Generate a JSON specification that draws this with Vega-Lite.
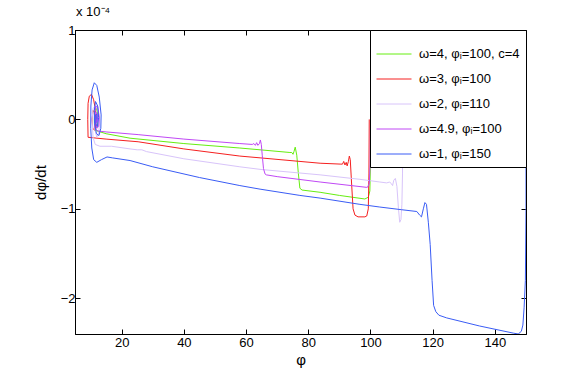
{
  "$schema": "https://vega.github.io/schema/vega-lite/v6.json",
  "width": 451,
  "height": 304,
  "autosize": {"type": "none"},
  "padding": {"left": 75, "top": 30, "right": 55, "bottom": 42},
  "background": "white",
  "config": {
    "view": {"stroke": "black", "strokeWidth": 1},
    "font": "Liberation Sans",
    "axis": {"domainColor": "black", "tickColor": "black", "labelColor": "black", "titleColor": "black", "grid": false, "labelFont": "Liberation Sans", "titleFont": "Liberation Sans", "labelFontSize": 13, "titleFontSize": 15, "titleFontWeight": "normal", "tickSize": -5, "domainWidth": 1, "tickWidth": 1}
  },
  "title": {"text": "x 10⁻⁴", "anchor": "start", "frame": "group", "offset": 5, "fontSize": 13, "fontWeight": "normal", "font": "Liberation Sans", "color": "black", "dx": 1},
  "data": {"values": [
    {"s":"G","k":1,"x":100,"y":0},{"s":"G","k":2,"x":100,"y":-0.5},{"s":"G","k":3,"x":99.8,"y":-0.8},{"s":"G","k":4,"x":99.3,"y":-0.87},{"s":"G","k":5,"x":98.2,"y":-0.89},{"s":"G","k":6,"x":90,"y":-0.85},{"s":"G","k":7,"x":83.8,"y":-0.815},{"s":"G","k":8,"x":78,"y":-0.79},{"s":"G","k":9,"x":77.3,"y":-0.77},{"s":"G","k":10,"x":76.8,"y":-0.6},{"s":"G","k":11,"x":76.3,"y":-0.4},{"s":"G","k":12,"x":75.8,"y":-0.31},{"s":"G","k":13,"x":75.4,"y":-0.36},{"s":"G","k":14,"x":75.1,"y":-0.39},{"s":"G","k":15,"x":74.7,"y":-0.37},{"s":"G","k":16,"x":74.1,"y":-0.37},{"s":"G","k":17,"x":64.5,"y":-0.34},{"s":"G","k":18,"x":58,"y":-0.32},{"s":"G","k":19,"x":40,"y":-0.27},{"s":"G","k":20,"x":22.7,"y":-0.21},{"s":"G","k":21,"x":15,"y":-0.16},{"s":"G","k":22,"x":11.3,"y":-0.12},{"s":"G","k":23,"x":11.2,"y":0},{"s":"G","k":24,"x":11.4,"y":0.1},{"s":"G","k":25,"x":11.9,"y":0.13},{"s":"G","k":26,"x":12.3,"y":0.05},{"s":"G","k":27,"x":12.2,"y":-0.07},{"s":"G","k":28,"x":11.8,"y":-0.1},{"s":"G","k":29,"x":11.5,"y":-0.03},{"s":"G","k":30,"x":11.6,"y":0.05},{"s":"G","k":31,"x":11.9,"y":0.04},{"s":"G","k":32,"x":11.9,"y":-0.02},
    {"s":"R","k":1,"x":99.6,"y":0},{"s":"R","k":2,"x":99.5,"y":-0.6},{"s":"R","k":3,"x":99.3,"y":-1.0},{"s":"R","k":4,"x":98.8,"y":-1.08},{"s":"R","k":5,"x":98.2,"y":-1.09},{"s":"R","k":6,"x":96,"y":-1.09},{"s":"R","k":7,"x":95,"y":-1.07},{"s":"R","k":8,"x":94.4,"y":-1.0},{"s":"R","k":9,"x":93.9,"y":-0.7},{"s":"R","k":10,"x":93.5,"y":-0.45},{"s":"R","k":11,"x":93.2,"y":-0.41},{"s":"R","k":12,"x":92.9,"y":-0.47},{"s":"R","k":13,"x":92.5,"y":-0.52},{"s":"R","k":14,"x":92.2,"y":-0.48},{"s":"R","k":15,"x":91.8,"y":-0.51},{"s":"R","k":16,"x":91.4,"y":-0.47},{"s":"R","k":17,"x":91,"y":-0.5},{"s":"R","k":18,"x":90.5,"y":-0.5},{"s":"R","k":19,"x":83.8,"y":-0.49},{"s":"R","k":20,"x":64.5,"y":-0.43},{"s":"R","k":21,"x":58,"y":-0.41},{"s":"R","k":22,"x":40,"y":-0.33},{"s":"R","k":23,"x":25.3,"y":-0.25},{"s":"R","k":24,"x":15,"y":-0.22},{"s":"R","k":25,"x":9.2,"y":-0.2},{"s":"R","k":26,"x":9.1,"y":0},{"s":"R","k":27,"x":9.2,"y":0.18},{"s":"R","k":28,"x":9.6,"y":0.26},{"s":"R","k":29,"x":10.3,"y":0.28},{"s":"R","k":30,"x":11,"y":0.22},{"s":"R","k":31,"x":11.6,"y":0.1},{"s":"R","k":32,"x":11.7,"y":-0.05},{"s":"R","k":33,"x":11.3,"y":-0.12},{"s":"R","k":34,"x":10.7,"y":-0.1},{"s":"R","k":35,"x":10.5,"y":0},{"s":"R","k":36,"x":10.8,"y":0.1},{"s":"R","k":37,"x":11.3,"y":0.08},{"s":"R","k":38,"x":11.4,"y":-0.02},
    {"s":"L","k":1,"x":110.3,"y":0},{"s":"L","k":2,"x":110.3,"y":-0.6},{"s":"L","k":3,"x":110.1,"y":-0.95},{"s":"L","k":4,"x":109.8,"y":-1.12},{"s":"L","k":5,"x":109.4,"y":-1.15},{"s":"L","k":6,"x":109,"y":-1.0},{"s":"L","k":7,"x":108.5,"y":-0.75},{"s":"L","k":8,"x":108,"y":-0.66},{"s":"L","k":9,"x":107.5,"y":-0.68},{"s":"L","k":10,"x":107.1,"y":-0.74},{"s":"L","k":11,"x":106.7,"y":-0.72},{"s":"L","k":12,"x":106.2,"y":-0.7},{"s":"L","k":13,"x":105.2,"y":-0.71},{"s":"L","k":14,"x":103,"y":-0.7},{"s":"L","k":15,"x":96.6,"y":-0.67},{"s":"L","k":16,"x":83.8,"y":-0.62},{"s":"L","k":17,"x":64.8,"y":-0.56},{"s":"L","k":18,"x":58,"y":-0.53},{"s":"L","k":19,"x":40,"y":-0.44},{"s":"L","k":20,"x":28,"y":-0.36},{"s":"L","k":21,"x":26.5,"y":-0.34},{"s":"L","k":22,"x":25,"y":-0.34},{"s":"L","k":23,"x":22.7,"y":-0.33},{"s":"L","k":24,"x":16.7,"y":-0.3},{"s":"L","k":25,"x":13,"y":-0.3},{"s":"L","k":26,"x":11.5,"y":-0.28},{"s":"L","k":27,"x":10.8,"y":-0.2},{"s":"L","k":28,"x":10.5,"y":0},{"s":"L","k":29,"x":10.8,"y":0.12},{"s":"L","k":30,"x":11.5,"y":0.15},{"s":"L","k":31,"x":12.5,"y":0.1},{"s":"L","k":32,"x":12.9,"y":0},{"s":"L","k":33,"x":12.7,"y":-0.14},{"s":"L","k":34,"x":12,"y":-0.2},{"s":"L","k":35,"x":11.3,"y":-0.1},{"s":"L","k":36,"x":11.2,"y":0.05},{"s":"L","k":37,"x":11.8,"y":0.08},{"s":"L","k":38,"x":12.2,"y":0},{"s":"L","k":39,"x":11.9,"y":-0.06},
    {"s":"P","k":1,"x":100,"y":0},{"s":"P","k":2,"x":99.9,"y":-0.5},{"s":"P","k":3,"x":99.6,"y":-0.72},{"s":"P","k":4,"x":99,"y":-0.76},{"s":"P","k":5,"x":98.8,"y":-0.76},{"s":"P","k":6,"x":83.8,"y":-0.7},{"s":"P","k":7,"x":70,"y":-0.64},{"s":"P","k":8,"x":66.5,"y":-0.62},{"s":"P","k":9,"x":66.1,"y":-0.61},{"s":"P","k":10,"x":65.6,"y":-0.55},{"s":"P","k":11,"x":65.2,"y":-0.4},{"s":"P","k":12,"x":64.9,"y":-0.28},{"s":"P","k":13,"x":64.6,"y":-0.23},{"s":"P","k":14,"x":64.3,"y":-0.27},{"s":"P","k":15,"x":63.8,"y":-0.29},{"s":"P","k":16,"x":63.4,"y":-0.26},{"s":"P","k":17,"x":63,"y":-0.29},{"s":"P","k":18,"x":62.5,"y":-0.27},{"s":"P","k":19,"x":62,"y":-0.28},{"s":"P","k":20,"x":58,"y":-0.27},{"s":"P","k":21,"x":40,"y":-0.22},{"s":"P","k":22,"x":25.3,"y":-0.17},{"s":"P","k":23,"x":15,"y":-0.14},{"s":"P","k":24,"x":12.4,"y":-0.13},{"s":"P","k":25,"x":11.4,"y":-0.1},{"s":"P","k":26,"x":11.3,"y":0.05},{"s":"P","k":27,"x":11.7,"y":0.15},{"s":"P","k":28,"x":12.3,"y":0.14},{"s":"P","k":29,"x":12.8,"y":0.02},{"s":"P","k":30,"x":12.6,"y":-0.08},{"s":"P","k":31,"x":12,"y":-0.1},{"s":"P","k":32,"x":11.6,"y":-0.02},{"s":"P","k":33,"x":11.8,"y":0.08},{"s":"P","k":34,"x":12.3,"y":0.05},{"s":"P","k":35,"x":12.2,"y":-0.03},{"s":"P","k":36,"x":11.9,"y":-0.04},{"s":"P","k":37,"x":11.9,"y":0.03},{"s":"P","k":38,"x":12.1,"y":0.02},
    {"s":"B","k":1,"x":150,"y":0},{"s":"B","k":2,"x":150,"y":-1.0},{"s":"B","k":3,"x":149.8,"y":-1.8},{"s":"B","k":4,"x":149.4,"y":-2.1},{"s":"B","k":5,"x":149,"y":-2.3},{"s":"B","k":6,"x":148.5,"y":-2.37},{"s":"B","k":7,"x":147.5,"y":-2.4},{"s":"B","k":8,"x":145.9,"y":-2.39},{"s":"B","k":9,"x":135,"y":-2.31},{"s":"B","k":10,"x":124.5,"y":-2.22},{"s":"B","k":11,"x":122,"y":-2.19},{"s":"B","k":12,"x":121,"y":-2.15},{"s":"B","k":13,"x":120.3,"y":-2.08},{"s":"B","k":14,"x":119.8,"y":-1.8},{"s":"B","k":15,"x":119.2,"y":-1.4},{"s":"B","k":16,"x":118.6,"y":-1.15},{"s":"B","k":17,"x":118,"y":-0.95},{"s":"B","k":18,"x":117.5,"y":-0.93},{"s":"B","k":19,"x":117,"y":-1.0},{"s":"B","k":20,"x":116.4,"y":-1.09},{"s":"B","k":21,"x":115.8,"y":-1.07},{"s":"B","k":22,"x":114.9,"y":-1.03},{"s":"B","k":23,"x":110,"y":-1.01},{"s":"B","k":24,"x":103,"y":-0.98},{"s":"B","k":25,"x":96.6,"y":-0.95},{"s":"B","k":26,"x":83.8,"y":-0.88},{"s":"B","k":27,"x":77.3,"y":-0.85},{"s":"B","k":28,"x":64.5,"y":-0.78},{"s":"B","k":29,"x":58,"y":-0.74},{"s":"B","k":30,"x":45,"y":-0.65},{"s":"B","k":31,"x":30,"y":-0.53},{"s":"B","k":32,"x":22.7,"y":-0.46},{"s":"B","k":33,"x":17,"y":-0.43},{"s":"B","k":34,"x":15.3,"y":-0.42},{"s":"B","k":35,"x":13.5,"y":-0.45},{"s":"B","k":36,"x":12,"y":-0.48},{"s":"B","k":37,"x":11,"y":-0.45},{"s":"B","k":38,"x":10.4,"y":-0.32},{"s":"B","k":39,"x":10.05,"y":-0.1},{"s":"B","k":40,"x":10.1,"y":0.15},{"s":"B","k":41,"x":10.5,"y":0.33},{"s":"B","k":42,"x":11.2,"y":0.41},{"s":"B","k":43,"x":12,"y":0.38},{"s":"B","k":44,"x":12.8,"y":0.25},{"s":"B","k":45,"x":13.4,"y":0.05},{"s":"B","k":46,"x":13.3,"y":-0.1},{"s":"B","k":47,"x":12.7,"y":-0.18},{"s":"B","k":48,"x":11.9,"y":-0.16},{"s":"B","k":49,"x":11.3,"y":-0.05},{"s":"B","k":50,"x":11.2,"y":0.1},{"s":"B","k":51,"x":11.6,"y":0.2},{"s":"B","k":52,"x":12.3,"y":0.15},{"s":"B","k":53,"x":12.6,"y":0.02},{"s":"B","k":54,"x":12.2,"y":-0.08},{"s":"B","k":55,"x":11.7,"y":-0.05},{"s":"B","k":56,"x":11.7,"y":0.05},{"s":"B","k":57,"x":12,"y":0.06},{"s":"B","k":58,"x":12.1,"y":0}
  ]},
  "layer": [
    {
      "mark": {"type": "line", "strokeWidth": 1, "clip": true},
      "encoding": {
        "x": {"field": "x", "type": "quantitative", "scale": {"domain": [5, 150], "nice": false, "zero": false},
              "axis": {"orient": "bottom", "values": [20, 40, 60, 80, 100, 120, 140], "title": "φ", "labelPadding": 7, "titlePadding": 3}},
        "y": {"field": "y", "type": "quantitative", "scale": {"domain": [-2.4, 1], "nice": false, "zero": false},
              "axis": {"orient": "left", "values": [-2, -1, 0, 1], "title": "dφ/dt", "labelPadding": 5, "titlePadding": 12}},
        "order": {"field": "k", "type": "quantitative"},
        "color": {"field": "s", "type": "nominal",
                  "scale": {"domain": ["G", "R", "L", "P", "B"], "range": ["#66ee11", "#f52020", "#d8c4fa", "#c048f5", "#3a5cf5"]},
                  "legend": {"orient": "top-right", "offset": 0, "title": null, "strokeColor": "black", "fillColor": "white", "padding": 6,
                             "symbolType": "stroke", "symbolSize": 1225, "symbolStrokeWidth": 1, "labelFontSize": 13, "labelFont": "Liberation Sans", "labelColor": "black",
                             "labelOffset": 7, "rowPadding": -13,
                             "labelExpr": "datum.value == 'G' ? 'ω=4, φᵢ=100, c=4' : datum.value == 'R' ? 'ω=3, φᵢ=100' : datum.value == 'L' ? 'ω=2, φᵢ=110' : datum.value == 'P' ? 'ω=4.9, φᵢ=100' : 'ω=1, φᵢ=150'"}}
      }
    },
    {
      "mark": {"type": "point", "opacity": 0},
      "encoding": {
        "x": {"field": "x", "type": "quantitative", "axis": {"orient": "top", "values": [20, 40, 60, 80, 100, 120, 140], "labels": false, "title": null}},
        "y": {"field": "y", "type": "quantitative", "axis": {"orient": "right", "values": [-2, -1, 0, 1], "labels": false, "title": null}}
      }
    }
  ],
  "resolve": {"axis": {"x": "independent", "y": "independent"}}
}
